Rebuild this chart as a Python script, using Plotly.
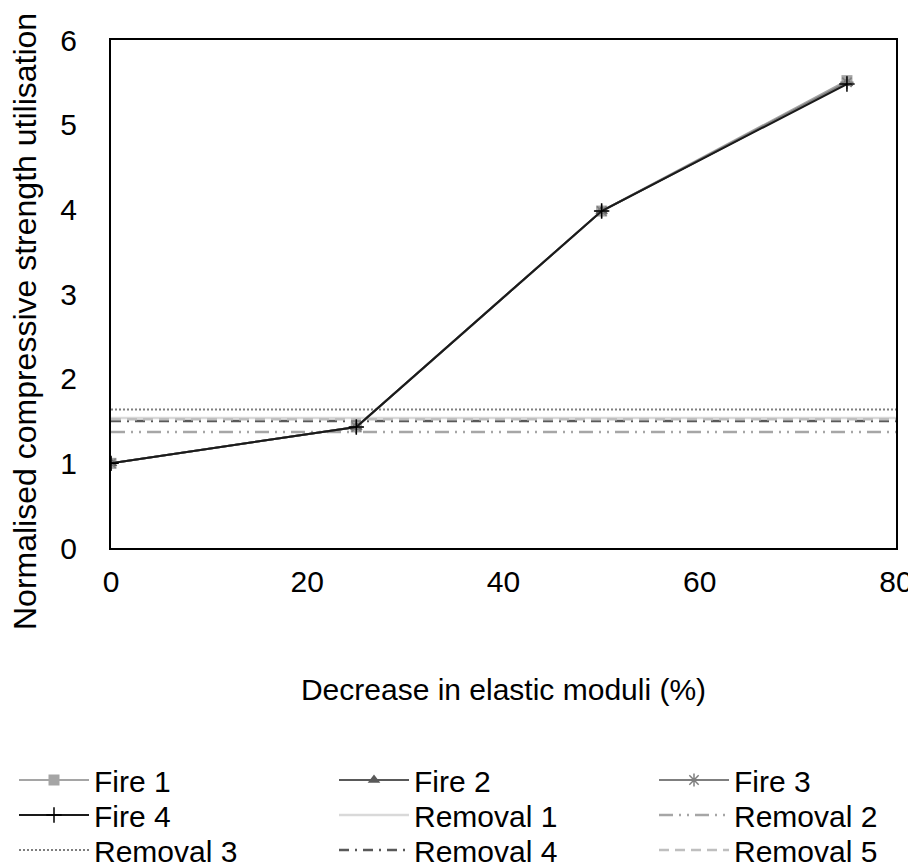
import plotly.graph_objects as go

x_fire = [0, 25, 50, 75]
fire1 = [1.0, 1.43, 3.98, 5.52]
fire2 = [1.0, 1.43, 3.98, 5.49]
fire3 = [1.0, 1.43, 3.98, 5.50]
fire4 = [1.0, 1.43, 3.98, 5.48]

x_removal = [0, 80]
removal1 = [1.535, 1.535]
removal2 = [1.37, 1.37]
removal3 = [1.635, 1.635]
removal4 = [1.50, 1.50]
removal5 = [1.52, 1.52]

x_ticks = [0, 20, 40, 60, 80]
y_ticks = [0, 1, 2, 3, 4, 5, 6]

legend_order = ["Fire 1", "Fire 2", "Fire 3", "Fire 4", "Removal 1", "Removal 2",
                "Removal 3", "Removal 4", "Removal 5"]


def leg_id(name):
    i = legend_order.index(name)
    return "legend" if i == 0 else "legend%d" % (i + 1)


fig = go.Figure()

fig.add_trace(go.Scatter(x=x_removal, y=removal1, mode="lines", name="Removal 1",
                         legend=leg_id("Removal 1"), line=dict(color="#D9D9D9", width=2.5)))
fig.add_trace(go.Scatter(x=x_removal, y=removal2, mode="lines", name="Removal 2",
                         legend=leg_id("Removal 2"),
                         line=dict(color="#A6A6A6", width=2.5, dash="14px,6px,2px,6px,2px,6px")))
fig.add_trace(go.Scatter(x=x_removal, y=removal3, mode="lines", name="Removal 3",
                         legend=leg_id("Removal 3"), line=dict(color="#7F7F7F", width=2, dash="2px,2px")))
fig.add_trace(go.Scatter(x=x_removal, y=removal4, mode="lines", name="Removal 4",
                         legend=leg_id("Removal 4"),
                         line=dict(color="#595959", width=2.5, dash="10px,6px,2px,6px")))
fig.add_trace(go.Scatter(x=x_removal, y=removal5, mode="lines", name="Removal 5",
                         legend=leg_id("Removal 5"), line=dict(color="#BFBFBF", width=2.5, dash="10px,6px")))

fig.add_trace(go.Scatter(x=x_fire, y=fire1, mode="lines+markers", name="Fire 1",
                         legend=leg_id("Fire 1"), line=dict(color="#A5A5A5", width=2),
                         marker=dict(symbol="square", size=11, color="#A5A5A5")))
fig.add_trace(go.Scatter(x=x_fire, y=fire2, mode="lines+markers", name="Fire 2",
                         legend=leg_id("Fire 2"), line=dict(color="#595959", width=2),
                         marker=dict(symbol="triangle-up", size=11, color="#595959")))
fig.add_trace(go.Scatter(x=x_fire, y=fire3, mode="lines+markers", name="Fire 3",
                         legend=leg_id("Fire 3"), line=dict(color="#7F7F7F", width=2),
                         marker=dict(symbol="asterisk-open", size=11, color="#7F7F7F",
                                     line=dict(width=1.5, color="#7F7F7F"))))
fig.add_trace(go.Scatter(x=x_fire, y=fire4, mode="lines+markers", name="Fire 4",
                         legend=leg_id("Fire 4"), line=dict(color="#1A1A1A", width=2),
                         marker=dict(symbol="cross-thin-open", size=11, color="#000000",
                                     line=dict(width=1.5, color="#000000"))))

# page has an 8px body margin; figure sized to fit exactly inside the window
W, H = 908, 860
row_centers_page = [782, 817, 852]
col_left_fig = [6, 326, 646]


def legend_cfg(i):
    row, col = divmod(i, 3)
    center_fig = row_centers_page[row] - 8 - 7
    top_fig = center_fig - 21
    return dict(orientation="h", xref="container", yref="container",
                x=col_left_fig[col] / W, y=1 - top_fig / H, xanchor="left", yanchor="top",
                font=dict(size=30), itemwidth=70,
                bgcolor="rgba(0,0,0,0)")


legends = {}
for i, name in enumerate(legend_order):
    legends[leg_id(name)] = legend_cfg(i)

fig.update_layout(
    width=W, height=H,
    margin=dict(l=103, r=20, t=32, b=320),
    plot_bgcolor="white", paper_bgcolor="white",
    font=dict(family="Liberation Sans, Arial, sans-serif", size=30, color="#000000"),
    showlegend=True,
    **legends,
)
fig.update_xaxes(range=[0, 80], tickvals=x_ticks, showgrid=False, zeroline=False,
                 showline=True, linecolor="black", linewidth=2, mirror=True,
                 ticks="", tickfont=dict(size=30), ticklabelstandoff=6, automargin=False,
                 title=dict(text="Decrease in elastic moduli (%)", font=dict(size=30), standoff=82))
fig.update_yaxes(range=[0, 6], tickvals=y_ticks, showgrid=False, zeroline=False,
                 showline=True, linecolor="black", linewidth=2, mirror=True,
                 ticks="", tickfont=dict(size=30), ticklabelstandoff=26, automargin=False)

fig.add_annotation(text="Normalised compressive strength utilisation", textangle=-90,
                   xref="paper", yref="paper", x=(17 - 103) / 785, y=(540 - 314) / 508,
                   xanchor="center", yanchor="middle", showarrow=False,
                   font=dict(size=32, family="Liberation Sans, Arial, sans-serif"))

fig.write_html("out.html")
